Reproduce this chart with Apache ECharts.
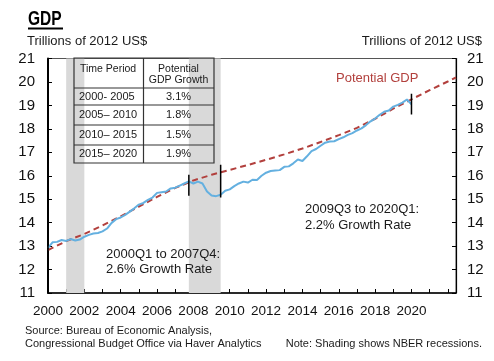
<!DOCTYPE html>
<html><head><meta charset="utf-8">
<script src="https://cdn.jsdelivr.net/npm/echarts@6/dist/echarts.min.js"></script>
<style>html,body{margin:0;padding:0;background:#fff}#c{width:494px;height:361px}</style>
</head><body><div id="c"></div>
<script>
// ---- Data ----
const gdpStartYear = 2000; // quarterly series, first quarter = 2000Q1
const gdp = [
  12.92, 13.16, 13.18, 13.26,
  13.22, 13.30, 13.24, 13.28,
  13.40, 13.48, 13.54, 13.56,
  13.63, 13.75, 13.99, 14.15,
  14.22, 14.33, 14.47, 14.61,
  14.77, 14.84, 14.97, 15.07,
  15.27, 15.30, 15.33, 15.46,
  15.49, 15.58, 15.67, 15.76,
  15.67, 15.75, 15.67, 15.33,
  15.16, 15.13, 15.19, 15.36,
  15.42, 15.56, 15.67, 15.75,
  15.71, 15.83, 15.82, 16.00,
  16.13, 16.20, 16.22, 16.24,
  16.38, 16.40, 16.53, 16.69,
  16.63, 16.83, 17.05, 17.14,
  17.28, 17.41, 17.46, 17.47,
  17.56, 17.64, 17.74, 17.82,
  17.93, 18.02, 18.16, 18.32,
  18.44, 18.60, 18.73, 18.78,
  18.95, 19.02, 19.12, 19.25,
  19.05
];
const potentialDates = [2000,2001,2002,2003,2004,2005,2006,2007,2008,2009,2010,2011,2012,2013,2014,2015,2016,2017,2018,2019,2020,2021,2022,2022.45];
const potential = [12.83,13.21,13.52,13.88,14.27,14.68,15.10,15.48,15.80,16.04,16.25,16.46,16.68,16.91,17.16,17.44,17.73,18.04,18.43,18.86,19.26,19.65,20.02,20.19];
const recessions = [[2001, 2002], [2007.75, 2009.5]];
const periodMarkers = [[2000, 12.73, 13.16], [2007.75, 15.15, 16.04], [2009.5, 15.07, 16.47], [2020, 18.61, 19.50]];
const xTickLabels = ['2000','2002','2004','2006','2008','2010','2012','2014','2016','2018','2020'];
const yMin = 11, yMax = 21;
const tablePeriods = ['2000- 2005', '2005\u2013 2010', '2010\u2013 2015', '2015\u2013 2020'];
const tableGrowth = ['3.1%', '1.8%', '1.5%', '1.9%'];
const tableHeader = ['Time Period', 'Potential\nGDP Growth'];

// ---- Chart ----
const FONT = "'Liberation Sans', Arial, Helvetica, sans-serif";
const chart = echarts.init(document.getElementById('c'), null, {renderer: 'canvas'});
const gdpPoints = gdp.map((v, i) => [gdpStartYear + i / 4, v]);
const potPoints = potentialDates.map((d, i) => [d, potential[i]]);

const series = [
  {
    type: 'line', data: potPoints, showSymbol: false, z: 3,
    lineStyle: {color: '#b2403d', width: 2, type: [6, 4]},
    silent: true, animation: false
  },
  {
    type: 'line', data: gdpPoints, showSymbol: false, z: 4,
    lineStyle: {color: '#64b0e0', width: 2},
    silent: true, animation: false,
    markArea: {
      silent: true, z: 1,
      itemStyle: {color: '#d9d9d9'},
      data: recessions.map(r => [{xAxis: r[0]}, {xAxis: r[1]}])
    }
  }
];
periodMarkers.forEach(m => {
  series.push({
    type: 'line', data: [[m[0], m[1]], [m[0], m[2]]], showSymbol: false, z: 6,
    lineStyle: {color: '#000', width: 1.5}, silent: true, animation: false
  });
});

function tx(text, x, y, size, opts) {
  opts = opts || {};
  return {
    type: 'text', z: 50,
    x: x, y: y, scaleX: opts.scaleX || 1,
    style: {
      text: text, x: 0, y: 0,
      font: (opts.weight || 'normal') + ' ' + size + 'px ' + (opts.family || FONT),
      fill: opts.fill || '#1a1a1a',
      textAlign: opts.align || 'left', align: opts.align || 'left',
      textVerticalAlign: 'middle', verticalAlign: 'middle',
      lineHeight: opts.lineHeight || size * 1.05
    }
  };
}
function ln(x1, y1, x2, y2, w, c) {
  return {type: 'line', z: 50, shape: {x1, y1, x2, y2}, style: {stroke: c || '#333', lineWidth: w || 1}};
}

const tX0 = 74, tX1 = 143.5, tX2 = 214;
const tRows = [58, 88, 105, 125, 145, 163];
const graphics = [
  tx('GDP', 28, 19.5, 21, {weight: 'bold', fill: '#000', scaleX: 0.74}),
  {type: 'rect', z: 50, shape: {x: 28, y: 27.5, width: 35, height: 2}, style: {fill: '#000'}},
  tx('Trillions of 2012 US$', 27, 41.5, 13),
  tx('Trillions of 2012 US$', 482, 41.5, 13, {align: 'right'}),
  tx('Potential GDP', 336, 78, 13, {fill: '#b2403d'}),
  tx('2009Q3 to 2020Q1:', 305, 209, 13),
  tx('2.2% Growth Rate', 305, 225, 13),
  tx('2000Q1 to 2007Q4:', 106, 254, 13),
  tx('2.6% Growth Rate', 106, 269, 13),
  tx('Source: Bureau of Economic Analysis,', 25, 330.5, 11),
  tx('Congressional Budget Office via Haver Analytics', 25, 343.5, 11),
  tx('Note: Shading shows NBER recessions.', 482, 343.5, 11, {align: 'right'}),
  // table
  {type: 'rect', z: 50, shape: {x: tX0, y: tRows[0], width: tX2 - tX0, height: tRows[5] - tRows[0]}, style: {fill: 'none', stroke: '#333', lineWidth: 1.2}},
  ln(tX1, tRows[0], tX1, tRows[5], 1.2),
  tx(tableHeader[0], 80, 69, 10.5),
  tx(tableHeader[1], 178.5, 74.5, 10.5, {align: 'center', lineHeight: 11.5})
];
for (let i = 1; i <= 4; i++) graphics.push(ln(tX0, tRows[i], tX2, tRows[i], 1.2));
tablePeriods.forEach((p, i) => {
  const cy = (tRows[i + 1] + tRows[i + 2]) / 2;
  graphics.push(tx(p, 79, cy, 11));
  graphics.push(tx(tableGrowth[i], 178.5, cy, 11, {align: 'center'}));
});

chart.setOption({
  animation: false,
  backgroundColor: '#fff',
  grid: {left: 48, right: 38, top: 58.5, bottom: 68, show: true, borderColor: '#555', borderWidth: 1, backgroundColor: 'transparent', containLabel: false, outerBoundsMode: 'none'},
  xAxis: {
    type: 'value', min: 2000, max: 2022.45, interval: 1,
    axisLine: {show: true, onZero: false, lineStyle: {color: '#000', width: 1.5}},
    axisTick: {show: true, inside: true, length: 4, lineStyle: {color: '#000', width: 1}},
    splitLine: {show: false},
    axisLabel: {
      show: true, margin: 11, fontSize: 13.5, color: '#111', fontFamily: FONT,
      showMinLabel: true, showMaxLabel: false, hideOverlap: false,
      formatter: v => xTickLabels.indexOf(String(v)) >= 0 ? String(v) : ''
    }
  },
  yAxis: [
    {
      type: 'value', position: 'left', min: yMin, max: yMax, interval: 1,
      axisLine: {show: true, lineStyle: {color: '#000', width: 2}},
      axisTick: {show: true, inside: true, length: 4, lineStyle: {color: '#000'}},
      splitLine: {show: false},
      axisLabel: {margin: 13, fontSize: 15, color: '#111', fontFamily: FONT, showMinLabel: true, showMaxLabel: true}
    },
    {
      type: 'value', position: 'right', min: yMin, max: yMax, interval: 1,
      axisLine: {show: true, lineStyle: {color: '#000', width: 1.2}},
      axisTick: {show: true, inside: true, length: 4, lineStyle: {color: '#000'}},
      splitLine: {show: false},
      axisLabel: {margin: 11, fontSize: 15, color: '#111', fontFamily: FONT, showMinLabel: true, showMaxLabel: true}
    }
  ],
  series: series,
  graphic: graphics
});
</script>
</body></html>
